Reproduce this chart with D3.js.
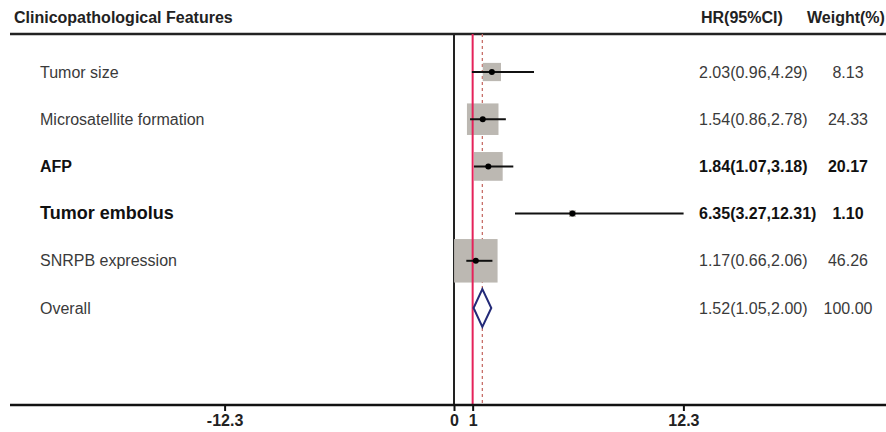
<!DOCTYPE html>
<html>
<head>
<meta charset="utf-8">
<script src="https://cdn.jsdelivr.net/npm/d3@7"></script>
<style>
  body { margin: 0; background: #fff; }
  svg text { font-family: "Liberation Sans", Arial, sans-serif; }
</style>
</head>
<body>
<div id="grafico"></div>
<script>
// datos
const factores = ["Tumor size", "Microsatellite formation", "AFP", "Tumor embolus", "SNRPB expression", "Overall"];
const hr = [2.03, 1.54, 1.84, 6.35, 1.17, 1.52];
const inferior = [0.96, 0.86, 1.07, 3.27, 0.66, 1.05];
const superior = [4.29, 2.78, 3.18, 12.31, 2.06, 2.00];
const pesos = [8.13, 24.33, 20.17, 1.10, 46.26, 100.00];
const negrita = [false, false, true, true, false, false];
const ticks = [-12.3, 0, 1, 12.3];

const width = 886, height = 432;

const svg = d3.select("#grafico")
    .append("svg")
    .attr("width", width)
    .attr("height", height);

const x = d3.scaleLinear().domain([-12.3, 12.3]).range([224.6, 683.4]);
const y = d3.scaleLinear().domain([0, 5]).range([72, 308]);
const lado = d3.scaleSqrt().domain([0, 46.26]).range([0, 43.5]);

const filas = factores.map((f, i) => ({
    nombre: f, hr: hr[i], lo: inferior[i], hi: superior[i], peso: pesos[i], bold: negrita[i], i: i
}));
const estudios = filas.slice(0, 5);
const total = filas[5];

const yArriba = 34, yBase = 405;

// cabecera
svg.append("text").attr("x", 14).attr("y", 23)
    .attr("font-size", 16).attr("font-weight", "bold").attr("fill", "#222")
    .text("Clinicopathological Features");
svg.append("text").attr("x", 701).attr("y", 23)
    .attr("font-size", 16).attr("font-weight", "bold").attr("fill", "#222")
    .text("HR(95%CI)");
svg.append("text").attr("x", 807).attr("y", 23)
    .attr("font-size", 16).attr("font-weight", "bold").attr("fill", "#222")
    .text("Weight(%)");
svg.append("line").attr("x1", 10).attr("x2", width).attr("y1", yArriba).attr("y2", yArriba)
    .attr("stroke", "#222").attr("stroke-width", 2.5);

// lineas verticales
svg.append("line").attr("x1", x(0)).attr("x2", x(0)).attr("y1", yArriba).attr("y2", yBase)
    .attr("stroke", "#222").attr("stroke-width", 2);
svg.append("line").attr("x1", x(total.hr)).attr("x2", x(total.hr)).attr("y1", yArriba).attr("y2", yBase)
    .attr("stroke", "#c8706a").attr("stroke-width", 1.3).attr("stroke-dasharray", "3,3");

// cajas de peso
svg.selectAll("rect.peso")
    .data(estudios)
    .enter().append("rect")
    .attr("class", "peso")
    .attr("x", d => x(d.hr) - lado(d.peso) / 2)
    .attr("y", d => y(d.i) - lado(d.peso) / 2)
    .attr("width", d => lado(d.peso))
    .attr("height", d => lado(d.peso))
    .attr("fill", "#bcb8b2");

svg.append("line").attr("x1", x(1)).attr("x2", x(1)).attr("y1", yArriba).attr("y2", yBase)
    .attr("stroke", "#e5225a").attr("stroke-width", 2);

// intervalos
svg.selectAll("line.ic")
    .data(estudios)
    .enter().append("line")
    .attr("class", "ic")
    .attr("x1", d => x(d.lo))
    .attr("x2", d => x(d.hi))
    .attr("y1", d => y(d.i))
    .attr("y2", d => y(d.i))
    .attr("stroke", "#111")
    .attr("stroke-width", 2);

svg.selectAll("circle.hr")
    .data(estudios)
    .enter().append("circle")
    .attr("class", "hr")
    .attr("cx", d => x(d.hr))
    .attr("cy", d => y(d.i))
    .attr("r", 3)
    .attr("fill", "#000");

// diamante global
const yc = y(total.i);
svg.append("path")
    .attr("d", `M${x(total.lo)},${yc} L${x(total.hr)},${yc - 19} L${x(total.hi)},${yc} L${x(total.hr)},${yc + 19} Z`)
    .attr("fill", "#fff")
    .attr("stroke", "#232a78")
    .attr("stroke-width", 2);

// textos
svg.selectAll("text.nombre")
    .data(filas)
    .enter().append("text")
    .attr("class", "nombre")
    .attr("x", 40)
    .attr("y", d => y(d.i) + 5.5)
    .attr("font-size", d => d.nombre === "Tumor embolus" ? 18 : 16)
    .attr("font-weight", d => d.bold ? "bold" : "normal")
    .attr("fill", d => d.bold ? "#111" : "#3a3a3a")
    .text(d => d.nombre);

svg.selectAll("text.hrtxt")
    .data(filas)
    .enter().append("text")
    .attr("class", "hrtxt")
    .attr("x", 699)
    .attr("y", d => y(d.i) + 5.5)
    .attr("font-size", 16)
    .attr("font-weight", d => d.bold ? "bold" : "normal")
    .attr("fill", d => d.bold ? "#111" : "#3a3a3a")
    .text(d => `${d.hr.toFixed(2)}(${d.lo.toFixed(2)},${d.hi.toFixed(2)})`);

svg.selectAll("text.pesotxt")
    .data(filas)
    .enter().append("text")
    .attr("class", "pesotxt")
    .attr("x", 848)
    .attr("y", d => y(d.i) + 5.5)
    .attr("text-anchor", "middle")
    .attr("font-size", 16)
    .attr("font-weight", d => d.bold ? "bold" : "normal")
    .attr("fill", d => d.bold ? "#111" : "#3a3a3a")
    .text(d => d.peso.toFixed(2));

// eje
svg.append("line").attr("x1", 10).attr("x2", width).attr("y1", yBase).attr("y2", yBase)
    .attr("stroke", "#111").attr("stroke-width", 2.5);

const eje = svg.append("g")
    .attr("transform", `translate(0,${yBase})`)
    .call(d3.axisBottom(x).tickValues(ticks).tickSize(6).tickPadding(4).tickFormat(d => String(d)));
eje.select(".domain").remove();
eje.selectAll(".tick line").attr("stroke", "#111").attr("stroke-width", 2);
eje.selectAll(".tick text")
    .attr("font-family", "Liberation Sans, Arial, sans-serif")
    .attr("font-size", 16)
    .attr("font-weight", "bold")
    .attr("fill", "#222");
</script>
</body>
</html>
